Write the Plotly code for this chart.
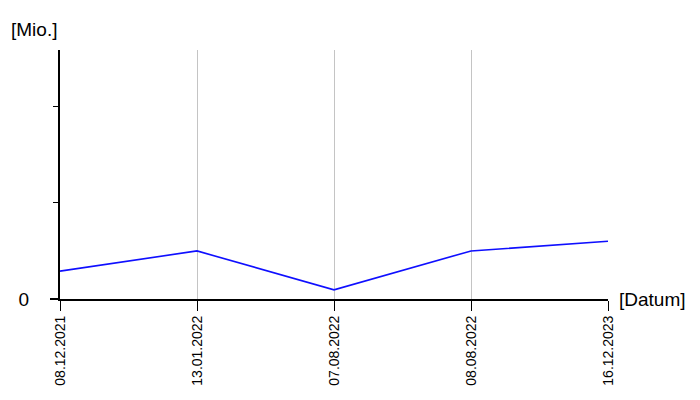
import plotly.graph_objects as go

dates = ["08.12.2021", "13.01.2022", "07.08.2022", "08.08.2022", "16.12.2023"]
values = [0.29, 0.50, 0.095, 0.50, 0.60]
y_ticks = [0, 1, 2]
y_tick_labels = ["0", "", ""]
y_max = 2.59

x_pos = list(range(len(dates)))

fig = go.Figure()
fig.add_trace(go.Scatter(
    x=x_pos, y=values, mode="lines",
    line=dict(color="#0f0fff", width=1.6),
    hoverinfo="skip", showlegend=False,
))

fig.update_layout(
    width=692, height=392,
    margin=dict(l=52, r=92, t=42, b=101),
    paper_bgcolor="white", plot_bgcolor="white",
    font=dict(family="Liberation Sans, Arial, sans-serif", color="black"),
    xaxis=dict(
        range=[0, len(dates) - 1], automargin=False,
        tickmode="array", tickvals=x_pos, ticktext=dates,
        tickangle=-90, tickfont=dict(size=14),
        ticks="outside", ticklen=10, tickwidth=1, tickcolor="black",
        ticklabelstandoff=-1,
        showgrid=True, gridcolor="#c4c4c4", gridwidth=1,
        showline=True, linecolor="black", linewidth=2,
        zeroline=False, fixedrange=True,
    ),
    yaxis=dict(
        range=[0, y_max], automargin=False,
        tickmode="array", tickvals=y_ticks, ticktext=y_tick_labels,
        tickfont=dict(size=19),
        ticks="outside", ticklen=5, tickwidth=1, tickcolor="black",
        ticklabelstandoff=20,
        showgrid=False,
        showline=True, linecolor="black", linewidth=2,
        zeroline=False, fixedrange=True,
    ),
    shapes=[
        dict(type="line", xref="paper", yref="paper",
             x0=-10 / 548, x1=0, y0=0, y1=0,
             line=dict(color="black", width=2)),
    ],
    annotations=[
        dict(text="[Mio.]", xref="paper", yref="paper",
             x=-51 / 548, y=1 + 21 / 249, xanchor="left", yanchor="middle",
             showarrow=False, font=dict(size=19)),
        dict(text="[Datum]", xref="paper", yref="paper",
             x=1 + 9 / 548, y=0, xanchor="left", yanchor="middle",
             showarrow=False, font=dict(size=19)),
    ],
)

fig.write_html("out.html")
